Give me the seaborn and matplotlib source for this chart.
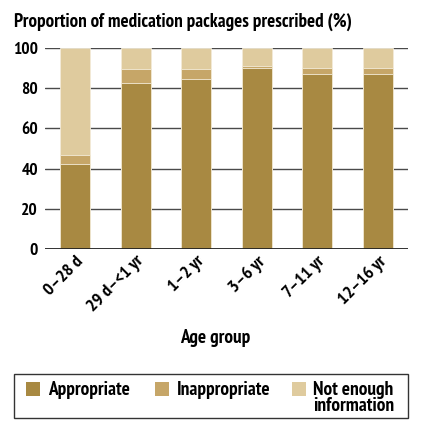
import matplotlib
matplotlib.use("Agg")
import matplotlib.pyplot as plt
import seaborn as sns
import pandas as pd
import numpy as np
from matplotlib.patches import Rectangle
from matplotlib import font_manager as fm

categories = ["0–28 d", "29 d–<1 yr", "1–2 yr", "3–6 yr", "7–11 yr", "12–16 yr"]
appropriate = [42.5, 82.5, 84.5, 90.0, 87.0, 87.0]
inappropriate = [4.5, 7.0, 5.0, 1.0, 3.0, 3.0]
not_enough = [53.0, 10.5, 10.5, 9.0, 10.0, 10.0]
series_names = ["Appropriate", "Inappropriate", "Not enough\ninformation"]
yticks = [0, 20, 40, 60, 80, 100]
title = "Proportion of medication packages prescribed (%)"
xlabel = "Age group"

colors = ["#A88942", "#C6A668", "#DFCB9E"]

sns.set_style("white")


def _w(v):
    if isinstance(v, str):
        return fm.weight_dict.get(v, 400)
    return v


# pick a narrow sans that has a real bold face
bold_names = {f.name for f in fm.fontManager.ttflist
              if _w(f.weight) >= 700 and f.style == 'normal'}
candidates = ["Liberation Sans Narrow", "Arial Narrow", "Archivo Narrow",
              "Nimbus Sans Narrow", "PT Sans Narrow", "Roboto Condensed",
              "Fira Sans Condensed", "IBM Plex Sans Condensed", "Open Sans Condensed",
              "Barlow Semi Condensed"]
family = next((c for c in candidates if c in bold_names), None)
if family is None:
    plt.rcParams['font.family'] = ['DejaVu Sans']
    plt.rcParams['font.stretch'] = 'condensed'
else:
    plt.rcParams['font.family'] = [family, 'DejaVu Sans']
plt.rcParams['font.weight'] = 'bold'
plt.rcParams['text.color'] = 'black'
plt.rcParams['xtick.color'] = 'black'
plt.rcParams['ytick.color'] = 'black'
plt.rcParams['axes.labelcolor'] = 'black'

W, H = 424, 436
fig = plt.figure(figsize=(W/100, H/100), dpi=100)
renderer = fig.canvas.get_renderer()


def fit(s, target_px, base=12):
    t = fig.text(0, 0, s, fontsize=base, fontweight='bold')
    w = t.get_window_extent(renderer).width
    t.remove()
    return base * target_px / w


def fx(px):
    return px / W


def fy(py):
    return 1 - py / H


ax = fig.add_axes([fx(45), fy(249), (408-45)/W, (249-48)/H])

a = np.array(appropriate)
b = a + np.array(inappropriate)
c = b + np.array(not_enough)
df = pd.DataFrame({"cat": categories, "top": c, "mid": b, "low": a})

for col, colr in zip(["top", "mid", "low"], colors[::-1]):
    sns.barplot(data=df, x="cat", y=col, color=colr, width=0.49, ax=ax,
                edgecolor="#F3EBD8", linewidth=0.6, saturation=1, zorder=3)

ax.set_ylim(0, 100)
ax.set_xlim(-0.5, 5.5)
ax.set_yticks(yticks)
ysz = fit("100", 25)
ax.set_yticklabels([str(t) for t in yticks], fontsize=ysz, fontweight='bold')
for t in yticks[1:]:
    ax.axhline(t, color="#4a4a4a", lw=1.0, zorder=1)
ax.axhline(0, color="#222222", lw=1.3, zorder=4)
for s in ax.spines.values():
    s.set_visible(False)
ax.tick_params(axis='y', length=0, pad=5)
ax.tick_params(axis='x', length=0, pad=3)
ax.set_xticks(range(len(categories)))
xsz = fit("29 d–<1 yr", 72)
ax.set_xticklabels(categories, rotation=45, ha='right', rotation_mode='anchor',
                   fontsize=xsz, fontweight='bold')
ax.set_ylabel("")
ax.set_xlabel(xlabel, fontsize=fit(xlabel, 70), fontweight='bold', va='center')
ax.xaxis.set_label_coords((215-45)/363, (249-338)/201)

fig.text(fx(14), fy(22), title, fontsize=fit(title, 336), fontweight='bold',
         va='center', ha='left')

# legend box
lsz = fit("Inappropriate", 93)
fig.patches.append(Rectangle((fx(14), fy(418)), (408-14)/W, 44/H,
                             transform=fig.transFigure, facecolor='white',
                             edgecolor='#333333', lw=1.0, figure=fig))
hx = [26, 155, 292]
tx = [48, 177, 313]
for colr, name, h, t in zip(colors, series_names, hx, tx):
    fig.patches.append(Rectangle((fx(h), fy(396)), 14/W, 14/H,
                                 transform=fig.transFigure, facecolor=colr,
                                 edgecolor='none', figure=fig))
    fig.text(fx(t), fy(381), name, fontsize=lsz, fontweight='bold',
             ha='left', va='top', linespacing=0.88)

fig.savefig("out.png", dpi=100)
